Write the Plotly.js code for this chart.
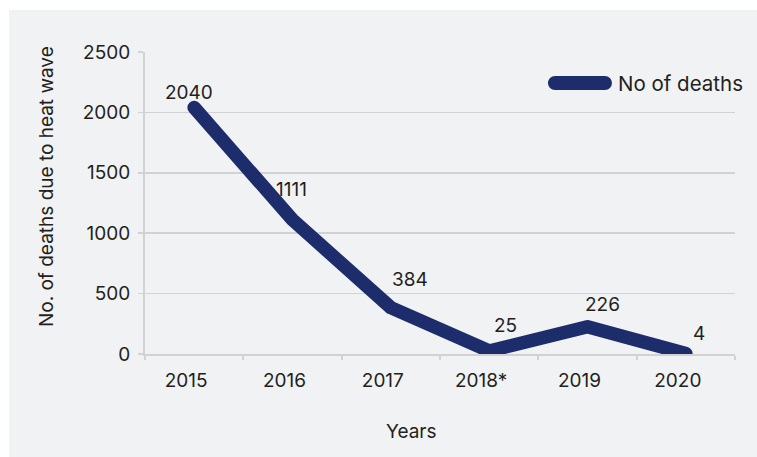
<!DOCTYPE html>
<html>
<head>
<meta charset="utf-8">
<script src="https://cdn.plot.ly/plotly-3.0.1.min.js"></script>
<style>
  html, body { margin: 0; padding: 0; background: #ffffff; width: 757px; height: 457px; overflow: hidden; }
  #chart { position: absolute; left: 9px; top: 10px; width: 748px; height: 447px; }
</style>
</head>
<body>
<div id="chart"></div>
<script>
// ---- data ----
const years = ["2015", "2016", "2017", "2018*", "2019", "2020"];
const deaths = [2040, 1111, 384, 25, 226, 4];
const seriesName = "No of deaths";
const xTitle = "Years";
const yTitle = "No. of deaths due to heat wave";

// ---- label offsets (style only, in px) ----
const labelDx = [-5, -1, 19, 16, 15, 13];
const labelDy = [15, 30, 28, 25, 22, 20];

const FONT = "Inter, 'Noto Sans', sans-serif";
const TXT = "#231f20";
const LINE = "#1d2d6b";
const GRID = "#d2d2d4";

const trace = {
  type: "scatter",
  mode: "lines",
  x: years,
  y: deaths,
  name: seriesName,
  line: { color: LINE, width: 13.5 },
  cliponaxis: false,
  hoverinfo: "skip"
};

// category axis: annotation x given as the category index of each year
const valueLabels = years.map((yr, i) => ({
  x: i, y: deaths[i], xref: "x", yref: "y",
  text: String(deaths[i]), showarrow: false,
  xanchor: "center", yanchor: "middle",
  xshift: labelDx[i], yshift: labelDy[i],
  font: { family: FONT, size: 19, color: TXT }
}));

const layout = {
  width: 748,
  height: 447,
  margin: { l: 136, r: 22, t: 42, b: 103, autoexpand: false },
  paper_bgcolor: "#f1f2f4",
  plot_bgcolor: "#f1f2f4",
  font: { family: FONT, size: 19, color: TXT },
  showlegend: true,
  legend: {
    x: 0.683, xanchor: "left",
    y: 0.897, yanchor: "middle",
    itemwidth: 60,
    bgcolor: "rgba(0,0,0,0)",
    font: { family: FONT, size: 20.5, color: TXT }
  },
  xaxis: {
    type: "category",
    range: [-0.5, 5.5],
    showgrid: false,
    showline: true, linecolor: GRID, linewidth: 2,
    ticks: "outside", tickson: "boundaries", ticklen: 4, tickcolor: GRID, tickwidth: 2,
    ticklabelshift: -8,
    ticklabelstandoff: 8,
    tickfont: { family: FONT, size: 19, color: TXT },
    zeroline: false,
    automargin: false,
    fixedrange: true
  },
  yaxis: {
    range: [0, 2500],
    tickvals: [0, 500, 1000, 1500, 2000, 2500],
    showgrid: true, gridcolor: GRID, gridwidth: 1.5,
    showline: true, linecolor: GRID, linewidth: 2,
    ticks: "outside", ticklen: 5, tickcolor: GRID, tickwidth: 1.5,
    ticklabelstandoff: 4,
    tickfont: { family: FONT, size: 19, color: TXT },
    zeroline: false,
    automargin: false,
    fixedrange: true
  },
  annotations: [
    { text: yTitle, xref: "paper", yref: "paper", x: -0.166, y: 0.553, textangle: -90,
      showarrow: false, xanchor: "center", yanchor: "middle", font: { family: FONT, size: 19, color: TXT } },
    { text: xTitle, xref: "paper", yref: "paper", x: 0.4525, y: -0.255,
      showarrow: false, xanchor: "center", yanchor: "middle", font: { family: FONT, size: 19, color: TXT } }
  ].concat(valueLabels)
};

Plotly.newPlot("chart", [trace], layout, { displayModeBar: false, staticPlot: true }).then(gd => {
  gd.querySelectorAll(".scatterlayer .js-line").forEach(p => {
    p.style.strokeLinecap = "round";
    p.style.strokeLinejoin = "round";
  });
  gd.querySelectorAll(".legend .legendlines path").forEach(p => {
    p.setAttribute("d", "M7,0h50");
    p.style.strokeWidth = "14px";
    p.style.strokeLinecap = "round";
  });
});
</script>
</body>
</html>
